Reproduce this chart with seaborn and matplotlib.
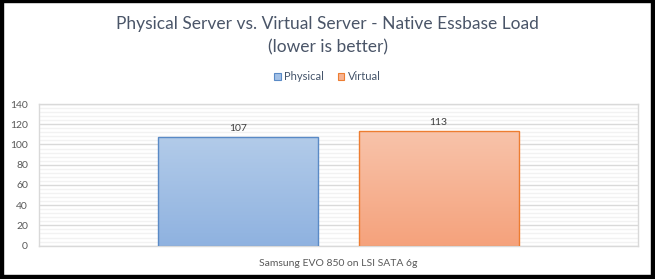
import numpy as np
import pandas as pd
import matplotlib
matplotlib.use("Agg")
import matplotlib.pyplot as plt
from matplotlib.patches import Patch, Rectangle
from matplotlib.ticker import MultipleLocator
import seaborn as sns

# ---- data ----
categories = ["Samsung EVO 850 on LSI SATA 6g"]
series = ["Physical", "Virtual"]
values = [107, 113]
title_lines = ["Physical Server vs. Virtual Server - Native Essbase Load", "(lower is better)"]

top_colors = {"Physical": "#B2CBE9", "Virtual": "#F8C3AA"}
bot_colors = {"Physical": "#8FB2E0", "Virtual": "#F5A27C"}
mid_colors = {"Physical": "#A2C0E6", "Virtual": "#F6B393"}
edge_colors = {"Physical": "#5A8AC6", "Virtual": "#ED7D31"}

sns.set_theme(style="white")
plt.rcParams['font.family'] = ['Lato', 'DejaVu Sans']

df = pd.DataFrame({"category": categories * len(series),
                   "series": series,
                   "value": values})

fig = plt.figure(figsize=(6.55, 2.79), dpi=100)
W, H = 655, 279
ax = fig.add_axes([39 / W, (H - 245.6) / H, 599 / W, (245.6 - 104) / H])

sns.barplot(data=df, x="category", y="value", hue="series", hue_order=series,
            palette=mid_colors, width=0.668, gap=0.2, ax=ax, legend=False,
            linewidth=1.0, zorder=3)

ax.set_ylim(0, 140)
ax.set_xlim(-0.5, 0.5)

# gradient fill for each bar
bars = [p for p in ax.patches]
for p, s in zip(bars, series):
    x0, y0 = p.get_x(), p.get_y()
    w, h = p.get_width(), p.get_height()
    c1 = np.array(matplotlib.colors.to_rgb(top_colors[s]))
    c2 = np.array(matplotlib.colors.to_rgb(bot_colors[s]))
    t = np.linspace(0, 1, 100)[:, None]
    grad = (c1 * (1 - t) + c2 * t)[:, None, :]
    im = ax.imshow(grad, extent=[x0, x0 + w, y0, y0 + h], aspect='auto',
                   origin='upper', zorder=2.5, interpolation='bilinear')
    im.set_clip_path(p)
    p.set_facecolor('none')
    p.set_edgecolor(edge_colors[s])
    ax.text(x0 + w / 2, h + 4, f"{h:g}", ha='center', va='bottom',
            fontsize=7.5, color='#404040')

ax.set_ylim(0, 140)
ax.set_xlim(-0.5, 0.5)
ax.set_aspect('auto')

ax.yaxis.set_major_locator(MultipleLocator(20))
ax.yaxis.set_minor_locator(MultipleLocator(4))
ax.grid(which='major', axis='y', color='#D9D9D9', linewidth=1.0, zorder=0)
ax.grid(which='minor', axis='y', color='#F2F2F2', linewidth=1.0, zorder=0)
ax.set_axisbelow(True)
for sp in ax.spines.values():
    sp.set_color('#D9D9D9')
    sp.set_linewidth(1.0)
ax.tick_params(axis='y', which='both', length=0, labelsize=7.5, labelcolor='#595959', pad=8)
ax.tick_params(axis='x', length=0, labelsize=7.5, labelcolor='#595959', pad=10)
ax.set_xlabel("")
ax.set_ylabel("")

# title
fig.text(0.5, 1 - 24 / H, title_lines[0], ha='center', va='center',
         fontsize=12.5, color='#4A5568')
fig.text(0.5, 1 - 47 / H, title_lines[1], ha='center', va='center',
         fontsize=12.5, color='#4A5568')

# legend
handles = [Patch(facecolor=mid_colors[s], edgecolor=edge_colors[s], linewidth=0.8, label=s)
           for s in series]
leg = fig.legend(handles=handles, loc='center', bbox_to_anchor=(0.5, 1 - 77 / H),
                 ncol=2, frameon=False, fontsize=8, handlelength=0.6, handleheight=0.6,
                 handletextpad=0.3, columnspacing=1.2, labelcolor='#44546A')

# black frame
frame_kw = dict(transform=fig.transFigure, color='black', zorder=10, clip_on=False)
fig.patches.append(Rectangle((0, 0), 3 / W, 1, **frame_kw))
fig.patches.append(Rectangle((1 - 4 / W, 0), 4 / W, 1, **frame_kw))
fig.patches.append(Rectangle((0, 1 - 2 / H), 1, 2 / H, **frame_kw))
fig.patches.append(Rectangle((0, 0), 1, 4 / H, **frame_kw))

fig.savefig("out.png", dpi=100)
